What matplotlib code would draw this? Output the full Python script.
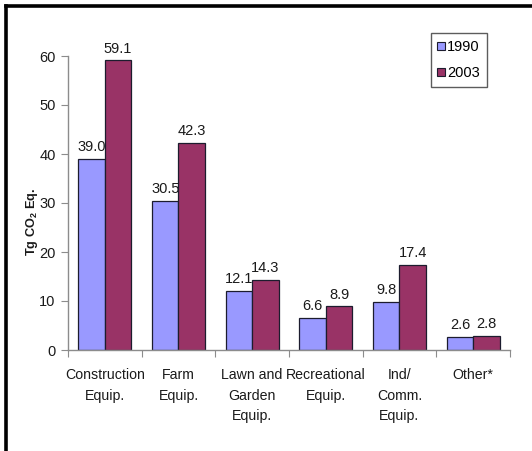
import matplotlib
matplotlib.use("Agg")
import matplotlib.pyplot as plt
import numpy as np
from matplotlib.lines import Line2D

plt.rcParams['font.family'] = ['Liberation Sans', 'DejaVu Sans']
plt.rcParams['mathtext.fontset'] = 'custom'
plt.rcParams['mathtext.rm'] = 'Liberation Sans'
plt.rcParams['mathtext.bf'] = 'Liberation Sans:bold'

categories = ["Construction\nEquip.", "Farm\nEquip.", "Lawn and\nGarden\nEquip.",
              "Recreational\nEquip.", "Ind/\nComm.\nEquip.", "Other*"]
values_1990 = [39.0, 30.5, 12.1, 6.6, 9.8, 2.6]
values_2003 = [59.1, 42.3, 14.3, 8.9, 17.4, 2.8]
series_names = ["1990", "2003"]
yticks = [0, 10, 20, 30, 40, 50, 60]

c1990 = "#9999FF"
c2003 = "#993366"
edge = "#1c1c2e"
axis_gray = "#8c8c8c"
text_col = "#1a1a1a"

fig = plt.figure(figsize=(5.32, 4.51), dpi=100)
ax = fig.add_axes([68 / 532, 1 - 350 / 451, 442 / 532, 294 / 451])

x = np.arange(len(categories))
w = 0.36
b1 = ax.bar(x - w / 2, values_1990, w, color=c1990, edgecolor=edge, linewidth=0.9,
            label=series_names[0], zorder=2)
b2 = ax.bar(x + w / 2, values_2003, w, color=c2003, edgecolor=edge, linewidth=0.9,
            label=series_names[1], zorder=2)

# value labels; the 1990 ones sit beneath the neighbouring bars
for rects, vals, z in ((b1, values_1990, 1.5), (b2, values_2003, 3)):
    for r, v in zip(rects, vals):
        ax.annotate(f"{v:.1f}", (r.get_x() + r.get_width() / 2, v),
                    xytext=(0, 3.5), textcoords="offset points",
                    ha="center", va="bottom", fontsize=10.5, color=text_col,
                    annotation_clip=False, zorder=z)

ax.set_xlim(-0.5, len(categories) - 0.5)
ax.set_ylim(0, 60)
ax.set_yticks(yticks)
ax.set_yticklabels([str(t) for t in yticks], fontsize=10.5, color=text_col)

# category labels centred under groups, tick marks between groups
ax.set_xticks(np.arange(-0.5, len(categories), 1.0))
ax.set_xticklabels([])
ax.set_xticks(x, minor=True)
ax.set_xticklabels(categories, minor=True, fontsize=10.2, color=text_col,
                   linespacing=1.6, va="top")
ax.tick_params(axis="x", which="minor", length=0, pad=13)
ax.tick_params(axis="x", which="major", length=5, color=axis_gray, direction="out")
ax.tick_params(axis="y", length=5, color=axis_gray, direction="out", pad=4)

for s in ("top", "right"):
    ax.spines[s].set_visible(False)
for s in ("left", "bottom"):
    ax.spines[s].set_color(axis_gray)
    ax.spines[s].set_linewidth(1.0)

ax.set_ylabel("Tg CO$_\\mathbf{2}$ Eq.", fontsize=9.2, fontweight="bold",
              color=text_col)
ax.yaxis.set_label_coords(-0.064, 0.435)

handles = [Line2D([], [], marker="s", linestyle="none", markersize=5.5,
                  markerfacecolor=c1990, markeredgecolor=edge, markeredgewidth=0.8),
           Line2D([], [], marker="s", linestyle="none", markersize=5.5,
                  markerfacecolor=c2003, markeredgecolor=edge, markeredgewidth=0.8)]
leg = fig.legend(handles, series_names, loc="upper left",
                 bbox_to_anchor=(431 / 532, 1 - 33 / 451), fontsize=10.5,
                 frameon=True, fancybox=False, handlelength=0.35, handletextpad=0.25,
                 borderpad=0.5, labelspacing=0.8, borderaxespad=0)
leg.get_frame().set_edgecolor("#333333")
leg.get_frame().set_linewidth(1.0)

# thick frame along left and top edges
fig.add_artist(Line2D([6 / 532, 6 / 532], [0, 1 - 6 / 451], transform=fig.transFigure,
                      color="black", linewidth=2.6, solid_capstyle="projecting"))
fig.add_artist(Line2D([6 / 532, 1], [1 - 6 / 451, 1 - 6 / 451], transform=fig.transFigure,
                      color="black", linewidth=2.6, solid_capstyle="projecting"))

fig.savefig("out.png", dpi=100)
